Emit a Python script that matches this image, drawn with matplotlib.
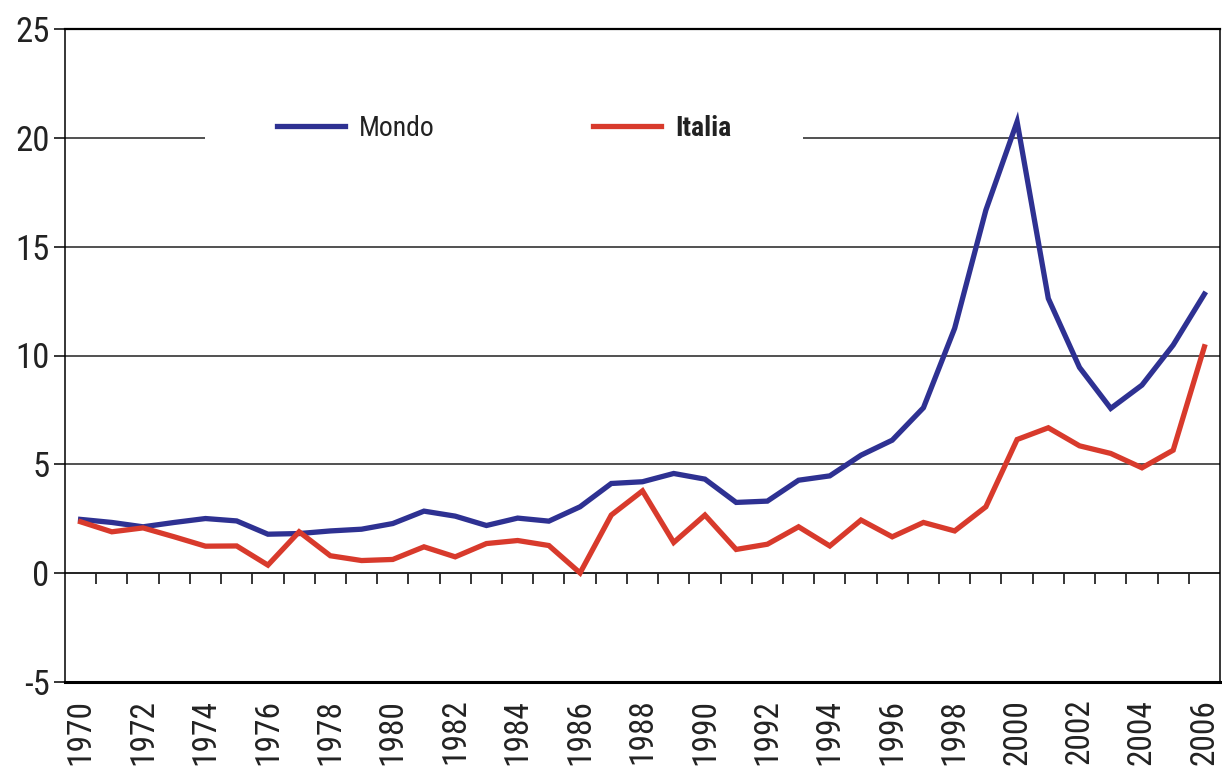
import numpy as np
import matplotlib.pyplot as plt

plt.rcParams['font.family'] = ['Roboto Condensed', 'Archivo Narrow',
                               'Liberation Sans', 'DejaVu Sans']

anni = list(range(1970, 2007))
mondo = [2.47, 2.33, 2.13, 2.33, 2.51, 2.4, 1.79, 1.82, 1.94, 2.02,
         2.28, 2.85, 2.62, 2.19, 2.53, 2.39, 3.05, 4.12, 4.2, 4.58,
         4.32, 3.25, 3.31, 4.27, 4.47, 5.42, 6.11, 7.6, 11.25, 16.68,
         20.74, 12.62, 9.45, 7.57, 8.64, 10.48, 12.82]
italia = [2.36, 1.9, 2.08, 1.67, 1.24, 1.25, 0.37, 1.9, 0.8, 0.58,
          0.63, 1.21, 0.75, 1.36, 1.5, 1.27, 0.01, 2.67, 3.78, 1.41,
          2.67, 1.09, 1.33, 2.13, 1.25, 2.44, 1.67, 2.33, 1.94, 3.05,
          6.14, 6.68, 5.85, 5.5, 4.84, 5.65, 10.4]
etichette_anni = [str(a) for a in anni[::2]]
yticks = [-5, 0, 5, 10, 15, 20, 25]

blu = '#2E3192'
rosso = '#D83A2C'

fig = plt.figure(figsize=(12.22, 7.71), dpi=100)
ax = fig.add_axes([65/1222, 89/771, 1155/1222, 653/771])

ax.set_xlim(anni[0] - 0.5, anni[-1] + 0.5)
ax.set_ylim(-5, 25)

# griglia orizzontale
for v in [5, 10, 15, 20]:
    ax.axhline(v, color='#222222', lw=1.1, zorder=1)
ax.axhline(0, color='#222222', lw=1.4, zorder=1)

ax.plot(anni, mondo, color=blu, lw=3.8, label='Mondo', zorder=3,
        solid_joinstyle='miter')
ax.plot(anni, italia, color=rosso, lw=3.8, label='Italia', zorder=3,
        solid_joinstyle='miter')

# assi
for s in ['left', 'right']:
    ax.spines[s].set_linewidth(1.1)
ax.spines['top'].set_linewidth(1.6)
ax.spines['bottom'].set_linewidth(2.2)

ax.set_yticks(yticks)
ax.set_yticklabels([str(v) for v in yticks])
ax.tick_params(axis='y', length=8, width=1.1, labelsize=25, pad=3,
               labelcolor='#222222')

ax.set_xticks(anni[::2])
ax.set_xticklabels(etichette_anni, rotation=90)
ax.tick_params(axis='x', length=0, labelsize=24, pad=12,
               labelcolor='#222222')

# tacche dell'asse x sullo zero
pos0 = (0 - (-5)) / 30
sec = ax.secondary_xaxis(pos0)
sec.spines['bottom'].set_visible(False)
sec.set_xticks(np.arange(anni[0] + 0.5, anni[-1], 1.0))
sec.set_xticklabels([])
sec.tick_params(axis='x', direction='out', length=8, width=1.1)

leg = ax.legend(loc='center', bbox_to_anchor=(0.380, 0.848), ncol=2,
                fontsize=20, frameon=True, framealpha=1, facecolor='white',
                edgecolor='none', fancybox=False, borderpad=2.6,
                handlelength=2.45, handletextpad=0.5, columnspacing=5.7)
leg.set_zorder(4)
leg.get_texts()[1].set_fontweight('bold')
for t in leg.get_texts():
    t.set_color('#222222')

fig.savefig('out.png', dpi=100)
